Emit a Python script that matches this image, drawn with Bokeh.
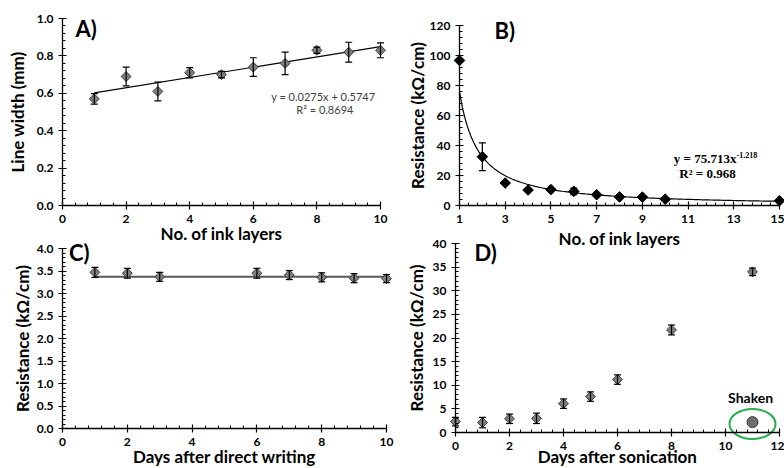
import numpy as np
from bokeh.plotting import figure
from bokeh.models import (Range1d, SingleIntervalTicker, FixedTicker, PrintfTickFormatter,
                          Label, LinearAxis)
from bokeh.embed import file_html
from bokeh.resources import INLINE

# ---------------- data ----------------
# A) line width vs number of ink layers
a_layers = [1, 2, 3, 4, 5, 6, 7, 8, 9, 10]
a_width = [0.57, 0.69, 0.61, 0.71, 0.70, 0.74, 0.76, 0.83, 0.82, 0.83]
a_err = [0.028, 0.05, 0.05, 0.027, 0.017, 0.05, 0.06, 0.017, 0.053, 0.04]
a_slope, a_icpt = 0.0275, 0.5747
a_eq = ["y = 0.0275x + 0.5747", "R² = 0.8694"]

# B) resistance vs number of ink layers
b_layers = [1, 2, 3, 4, 5, 6, 7, 8, 9, 10, 15]
b_res = [96.7, 32.5, 15.0, 10.3, 10.6, 9.4, 7.2, 5.7, 5.6, 4.2, 3.2]
b_err = [0, 9.2, 0, 0, 0, 2.2, 0, 0, 0, 0, 0]
b_coef, b_exp = 75.713, -1.218
b_eq = ["y = 75.713x", "-1.218", "R² = 0.968"]
b_ticks = [1, 3, 5, 7, 9, 11, 13, 15]

# C) resistance vs days after direct writing
c_days = [1, 2, 3, 6, 7, 8, 9, 10]
c_res = [3.47, 3.45, 3.37, 3.45, 3.41, 3.36, 3.34, 3.33]
c_err = [0.11, 0.11, 0.1, 0.11, 0.1, 0.1, 0.1, 0.09]
c_fit = 3.37

# D) resistance vs days after sonication
d_days = [0, 1, 2, 3, 4, 5, 6, 8, 11]
d_res = [2.3, 2.1, 2.9, 3.0, 6.1, 7.6, 11.2, 21.7, 34.0]
d_err = [0.9, 1.1, 1.0, 1.1, 1.0, 1.0, 1.0, 1.05, 0.8]
d_shaken_day = [11]
d_shaken_res = [2.2]

FONT = "Lato"
GRAY = "#7f7f7f"
EDGE = "#3a3a3a"
W, H = 784, 468

p = figure(width=W, height=H, x_range=Range1d(0, W), y_range=Range1d(H, 0),
           output_backend="svg", toolbar_location=None,
           x_axis_location=None, y_axis_location=None,
           min_border=0, min_border_left=0, min_border_right=0,
           min_border_top=0, min_border_bottom=0)
p.outline_line_color = None
p.background_fill_color = "white"
p.border_fill_color = "white"
p.xgrid.visible = False
p.ygrid.visible = False


def style_axis(ax, standoff):
    ax.axis_line_width = 1.3
    ax.axis_line_color = "black"
    ax.major_tick_line_color = "black"
    ax.minor_tick_line_color = "black"
    ax.major_tick_line_width = 1.2
    ax.major_tick_in = 4
    ax.major_tick_out = 4
    ax.minor_tick_in = 3
    ax.minor_tick_out = 0
    ax.major_label_text_font = FONT
    ax.major_label_text_font_style = "bold"
    ax.major_label_text_font_size = "12px"
    ax.major_label_text_color = "black"
    ax.major_label_standoff = 5
    ax.axis_label_text_font = FONT
    ax.axis_label_text_font_style = "bold"
    ax.axis_label_text_font_size = "17px"
    ax.axis_label_text_color = "black"
    ax.axis_label_standoff = standoff


def panel(name, xlim, ylim, box, xticker, yticker, xlabel, ylabel,
          xstand, ystand, yfmt=None):
    x0, x1 = xlim
    y0, y1 = ylim
    L, R, T, B = box
    sx = (x1 - x0) / (R - L)
    sy = (y1 - y0) / (B - T)
    p.extra_x_ranges[name] = Range1d(x0 - L * sx, x1 + (W - R) * sx)
    p.extra_y_ranges[name] = Range1d(y0 - (H - B) * sy, y1 + T * sy)
    xa = LinearAxis(x_range_name=name, y_range_name=name, fixed_location=y0,
                    bounds=(x0, x1), ticker=xticker, axis_label=xlabel)
    style_axis(xa, xstand)
    p.add_layout(xa, "below")
    ya = LinearAxis(x_range_name=name, y_range_name=name, fixed_location=x0,
                    bounds=(y0, y1), ticker=yticker, axis_label=ylabel)
    if yfmt:
        ya.formatter = PrintfTickFormatter(format=yfmt)
    style_axis(ya, ystand)
    p.add_layout(ya, "left")


def errbars(name, x, y, e):
    xs = [xi for xi, ei in zip(x, e) if ei > 0]
    lo = [yi - ei for yi, ei in zip(y, e) if ei > 0]
    hi = [yi + ei for yi, ei in zip(y, e) if ei > 0]
    kw = dict(x_range_name=name, y_range_name=name)
    p.segment(x0=xs, y0=lo, x1=xs, y1=hi, line_color="black", line_width=1.2, **kw)
    p.scatter(xs, lo, marker="dash", size=7, line_color="black", line_width=1.2, **kw)
    p.scatter(xs, hi, marker="dash", size=7, line_color="black", line_width=1.2, **kw)


def diamonds(name, x, y, fill=GRAY, line=EDGE, size=7):
    p.scatter(x, y, marker="square", angle=np.pi / 4, size=size,
              fill_color=fill, line_color=line, line_width=1,
              x_range_name=name, y_range_name=name)


def text(name, x, y, t, size, font=FONT, style="normal", align="center",
         color="black", y_offset=0):
    p.add_layout(Label(x=x, y=y, text=t, text_font=font, text_font_style=style,
                       text_font_size=size, text_align=align, text_baseline="middle",
                       text_color=color, y_offset=y_offset,
                       x_range_name=name, y_range_name=name))


# ---------------- A ----------------
panel("a", (0, 10), (0, 1.0), (62, 380, 18, 205),
      SingleIntervalTicker(interval=2, num_minor_ticks=5),
      SingleIntervalTicker(interval=0.2, num_minor_ticks=5),
      "No. of ink layers", "Line width (mm)", -3, 6, "%.1f")
ax_fit = np.array([a_layers[0], a_layers[-1]], dtype=float)
p.line(ax_fit, a_slope * ax_fit + a_icpt, line_color="black", line_width=1.2,
       x_range_name="a", y_range_name="a")
diamonds("a", a_layers, a_width)
errbars("a", a_layers, a_width, a_err)
text("a", 8.2, 0.583, a_eq[0], "11px", color="#404040")
text("a", 8.25, 0.513, a_eq[1], "11px", color="#404040")
text("a", 0.41, 0.947, "A)", "22px", style="bold", align="left")

# ---------------- B ----------------
panel("b", (1, 15), (0, 120), (459, 779, 25, 205),
      FixedTicker(ticks=b_ticks, minor_ticks=list(np.arange(1, 15.01, 0.4))),
      SingleIntervalTicker(interval=20, num_minor_ticks=5),
      "No. of ink layers", "Resistance (kΩ/cm)", 2, -1)
bx_fit = np.linspace(1, 15, 200)
p.line(bx_fit, b_coef * bx_fit ** b_exp, line_color="black", line_width=1.2,
       x_range_name="b", y_range_name="b")
diamonds("b", b_layers, b_res, fill="black", line="black", size=7.5)
errbars("b", b_layers, b_res, b_err)
text("b", 13.12, 31.3, b_eq[0], "13px", font="Liberation Serif", style="bold", align="right")
text("b", 13.12, 31.3, b_eq[1], "8px", font="Liberation Serif", style="bold", align="left",
     y_offset=4)
text("b", 11.85, 21.3, b_eq[2], "13px", font="Liberation Serif", style="bold")
text("b", 2.53, 116.7, "B)", "22px", style="bold", align="left")

# ---------------- C ----------------
panel("c", (0, 10), (0, 4.0), (62, 386, 248, 428),
      SingleIntervalTicker(interval=2, num_minor_ticks=5),
      SingleIntervalTicker(interval=0.5, num_minor_ticks=5),
      "Days after direct writing", "Resistance (kΩ/cm)", -3, 1, "%.1f")
p.line([c_days[0], c_days[-1]], [c_fit, c_fit], line_color="#595959", line_width=2,
       x_range_name="c", y_range_name="c")
diamonds("c", c_days, c_res)
errbars("c", c_days, c_res, c_err)
text("c", 0.2, 3.91, "C)", "22px", style="bold", align="left")

# ---------------- D ----------------
panel("d", (0, 12), (0, 40), (455, 779, 243, 432),
      SingleIntervalTicker(interval=2, num_minor_ticks=5),
      SingleIntervalTicker(interval=5, num_minor_ticks=5),
      "Days after sonication", "Resistance (kΩ/cm)", -7, 3)
diamonds("d", d_days, d_res)
errbars("d", d_days, d_res, d_err)
p.scatter(d_shaken_day, d_shaken_res, marker="circle", size=11,
          fill_color="#6e6e6e", line_color=EDGE, line_width=1,
          x_range_name="d", y_range_name="d")
p.ellipse(x=d_shaken_day, y=[d_shaken_res[0] - 0.4], width=46, height=30,
          width_units="screen", height_units="screen",
          fill_color=None, line_color="#21b04b", line_width=2,
          x_range_name="d", y_range_name="d")
text("d", 10.93, 7.4, "Shaken", "14px", style="bold")
text("d", 0.7, 38.1, "D)", "22px", style="bold", align="left")

open("out.html", "w").write(file_html(p, INLINE))
